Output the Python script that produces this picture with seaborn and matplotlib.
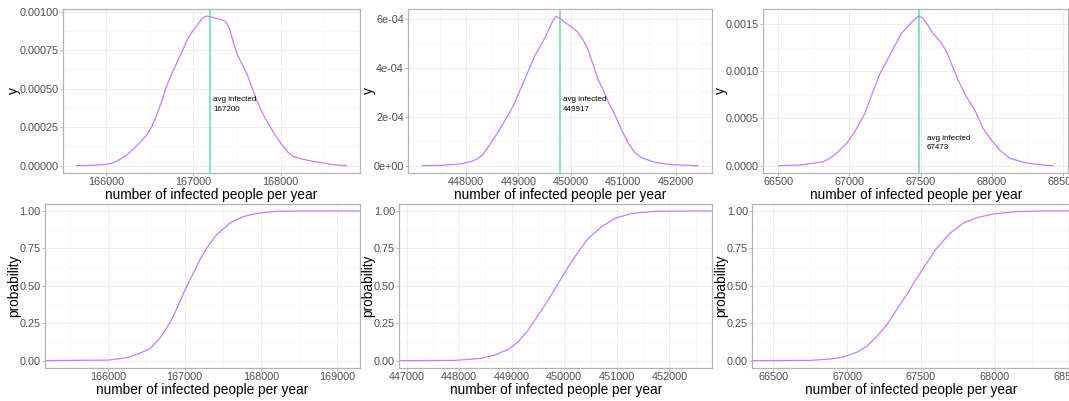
import matplotlib
matplotlib.use("Agg")
import matplotlib.pyplot as plt
import seaborn as sns
from matplotlib.ticker import FuncFormatter, FixedLocator

# ---------------- data ----------------
dens1_x = [165656, 165817, 166000, 166084, 166160, 166237, 166313, 166389, 166466, 166523,
           166580, 166637, 166683, 166771, 166828, 166878, 166924, 166981, 167038, 167095,
           167145, 167191, 167248, 167324, 167374, 167420, 167458, 167504, 167553, 167611,
           167668, 167725, 167802, 167878, 167954, 168031, 168088, 168145, 168260, 168412,
           168603, 168756]
dens1_y = [0, 0.000002, 0.0000087, 0.0000195, 0.000041, 0.000069, 0.000108, 0.000152, 0.000199, 0.000253,
           0.000329, 0.000416, 0.000502, 0.000621, 0.00069, 0.000751, 0.000812, 0.000866, 0.000909, 0.000952,
           0.000972, 0.000968, 0.000957, 0.00095, 0.000933, 0.000881, 0.000799, 0.000719, 0.000665, 0.0006,
           0.000513, 0.000426, 0.000329, 0.000253, 0.000184, 0.000123, 0.0000844, 0.0000584, 0.0000411, 0.0000238,
           0.0000065, 0]

dens2_x = [447154, 447536, 447917, 448108, 448235, 448331, 448426, 448553, 448680, 448808,
           448935, 449030, 449126, 449221, 449316, 449412, 449507, 449603, 449666, 449717,
           449774, 449889, 450016, 450130, 450238, 450334, 450429, 450525, 450620, 450715,
           450843, 450970, 451097, 451224, 451351, 451606, 451924, 452432]
dens2_y = [0, 0.0000014, 0.0000082, 0.0000177, 0.00003, 0.0000476, 0.0000776, 0.000118, 0.000162, 0.000207,
           0.000261, 0.000309, 0.000356, 0.000404, 0.000452, 0.000486, 0.000524, 0.000567, 0.000597, 0.000611,
           0.000605, 0.000586, 0.000567, 0.000547, 0.000513, 0.000472, 0.000411, 0.00035, 0.000309, 0.000261,
           0.000207, 0.000146, 0.0000912, 0.0000531, 0.0000327, 0.0000136, 0.0000041, 0]

dens3_x = [66500, 66652, 66722, 66816, 66863, 66921, 66980, 67038, 67108, 67143,
           67178, 67213, 67260, 67307, 67365, 67424, 67459, 67482, 67513, 67541,
           67588, 67646, 67681, 67716, 67763, 67822, 67880, 67939, 67997, 68056,
           68126, 68243, 68360, 68430]
dens3_y = [0, 0.000007, 0.000021, 0.000042, 0.000078, 0.000148, 0.000236, 0.00036, 0.000554, 0.000695,
           0.000836, 0.00097, 0.0011, 0.00124, 0.0014, 0.0015, 0.00155, 0.001584, 0.00157, 0.00151,
           0.0014, 0.0013, 0.00121, 0.00108, 0.000907, 0.00073, 0.000589, 0.000395, 0.000272, 0.000166,
           0.0000776, 0.0000282, 0.000007, 0]

# average lines and labels
avg_x = [167191, 449790, 67488]
avg_labels = ["167200", "449917", "67473"]
label_x = [167229, 449855, 67542]
label_y = [0.000397, 0.00025, 0.000242]

# cumulative panels
cdf1_x = [165000, 166000, 166240, 166414, 166545, 166676, 166763, 166850, 166938, 167025,
          167112, 167199, 167287, 167417, 167592, 167766, 167941, 168202, 168508, 169500]
cdf1_y = [0, 0.004, 0.02, 0.05, 0.08, 0.15, 0.216, 0.294, 0.394, 0.494,
          0.583, 0.673, 0.75, 0.84, 0.918, 0.962, 0.984, 0.998, 1.0, 1.0]

cdf2_x = [446700, 447920, 448428, 448681, 448935, 449126, 449316, 449506, 449697, 449887,
          450077, 450268, 450458, 450712, 450966, 451283, 451727, 452362, 453000]
cdf2_y = [0, 0.002, 0.016, 0.038, 0.076, 0.127, 0.205, 0.305, 0.405, 0.517,
          0.628, 0.728, 0.817, 0.895, 0.951, 0.984, 0.998, 1.0, 1.0]

cdf3_x = [66300, 66748, 66883, 66974, 67064, 67131, 67199, 67267, 67334, 67402,
          67470, 67537, 67605, 67695, 67785, 67876, 67988, 68146, 68327, 68600]
cdf3_y = [0, 0.002, 0.011, 0.024, 0.056, 0.094, 0.16, 0.238, 0.339, 0.439,
          0.55, 0.65, 0.75, 0.85, 0.918, 0.955, 0.98, 0.996, 1.0, 1.0]

xlabel = "number of infected people per year"
dens_ylabel = "y"
cdf_ylabel = "probability"

dens1_xticks = [166000, 167000, 168000]
dens2_xticks = [448000, 449000, 450000, 451000, 452000]
dens3_xticks = [66500, 67000, 67500, 68000, 68500]
dens1_yticks = [0, 0.00025, 0.0005, 0.00075, 0.001]
dens2_yticks = [0, 0.0002, 0.0004, 0.0006]
dens3_yticks = [0, 0.0005, 0.001, 0.0015]
cdf1_xticks = [166000, 167000, 168000, 169000]
cdf2_xticks = [447000, 448000, 449000, 450000, 451000, 452000]
cdf3_xticks = [66500, 67000, 67500, 68000, 68500]
cdf_yticks = [0, 0.25, 0.5, 0.75, 1.0]

# ---------------- style ----------------
sns.set_theme(style="white")
plt.rcParams["font.family"] = ["Liberation Sans", "DejaVu Sans"]

LINE = "#C77CFF"
GREEN = "#6EDC9A"
W, H = 1069, 401
fig = plt.figure(figsize=(W / 100, H / 100), dpi=100)


def add_ax(x0, x1, y0, y1):
    return fig.add_axes([x0 / W, 1 - y1 / H, (x1 - x0) / W, (y1 - y0) / H])


def style(ax, xticks, yticks, xlim, ylim, yfmt, ylabel, ylpad):
    ax.set_xlim(*xlim)
    ax.set_ylim(*ylim)
    ax.xaxis.set_major_locator(FixedLocator(xticks))
    ax.yaxis.set_major_locator(FixedLocator(yticks))
    dx = xticks[1] - xticks[0]
    dy = yticks[1] - yticks[0]
    ax.xaxis.set_minor_locator(FixedLocator([xticks[0] - dx / 2 + i * dx for i in range(len(xticks) + 2)]))
    ax.yaxis.set_minor_locator(FixedLocator([yticks[0] - dy / 2 + i * dy for i in range(len(yticks) + 2)]))
    ax.xaxis.set_major_formatter(FuncFormatter(lambda v, p: f"{v:.0f}"))
    ax.yaxis.set_major_formatter(FuncFormatter(yfmt))
    ax.grid(True, which="major", color="#EBEBEB", lw=0.6)
    ax.grid(True, which="minor", color="#F4F4F4", lw=0.4)
    ax.set_axisbelow(True)
    for s in ax.spines.values():
        s.set_color("#B3B3B3")
        s.set_linewidth(0.9)
    ax.tick_params(which="major", direction="out", length=2.2, width=0.6, color="#B3B3B3",
                   labelsize=7.8, labelcolor="#4D4D4D", pad=1.0, bottom=True, left=True)
    ax.tick_params(which="minor", length=0)
    ax.set_xlabel(xlabel, fontsize=9.8, color="black", labelpad=0.5)
    ax.set_ylabel(ylabel, fontsize=9.8, color="black", labelpad=ylpad)


def sci(v, p):
    if v == 0:
        return "0e+00"
    return f"{v:.0e}"


# ---------- top row: densities ----------
ax1 = add_ax(63, 360, 9.3, 172.7)
ax2 = add_ax(408.3, 711.7, 9.3, 172.7)
ax3 = add_ax(763.3, 1068, 9.3, 172.7)

dens = [(ax1, dens1_x, dens1_y), (ax2, dens2_x, dens2_y), (ax3, dens3_x, dens3_y)]
for i, (ax, xs, ys) in enumerate(dens):
    ax.axvline(avg_x[i], color=GREEN, lw=1.1, zorder=2)
    sns.lineplot(x=xs, y=ys, ax=ax, color=LINE, lw=0.9, zorder=3, sort=False, estimator=None)
    ax.text(label_x[i], label_y[i], "avg infected\n" + avg_labels[i], fontsize=5.8,
            ha="left", va="center", color="black", linespacing=1.5)

style(ax1, dens1_xticks, dens1_yticks, (165507, 168908), (-0.0000455, 0.0010156),
      lambda v, p: f"{v:.5f}", dens_ylabel, -1.2)
style(ax2, dens2_xticks, dens2_yticks, (446900, 452687), (-0.0000286, 0.00063967),
      sci, dens_ylabel, -1.5)
style(ax3, dens3_xticks, dens3_yticks, (66395, 68535), (-0.0000741, 0.001656),
      lambda v, p: f"{v:.4f}", dens_ylabel, -1.5)

# ---------- bottom row: cumulative ----------
ax4 = add_ax(45, 359.5, 204.3, 367.7)
ax5 = add_ax(399.3, 712.3, 204.3, 367.7)
ax6 = add_ax(752.3, 1069, 204.3, 367.7)

for ax, xs, ys in [(ax4, cdf1_x, cdf1_y), (ax5, cdf2_x, cdf2_y), (ax6, cdf3_x, cdf3_y)]:
    sns.lineplot(x=xs, y=ys, ax=ax, color=LINE, lw=0.9, zorder=3, sort=False, estimator=None)

pfmt = lambda v, p: f"{v:.2f}"
style(ax4, cdf1_xticks, cdf_yticks, (165171, 169292), (-0.0468, 1.0448), pfmt, cdf_ylabel, -1)
style(ax5, cdf2_xticks, cdf_yticks, (446860, 452818), (-0.0468, 1.0448), pfmt, cdf_ylabel, -1)
style(ax6, cdf3_xticks, cdf_yticks, (66358, 68502), (-0.0468, 1.0448), pfmt, cdf_ylabel, -1)

fig.savefig("out.png", dpi=100)
